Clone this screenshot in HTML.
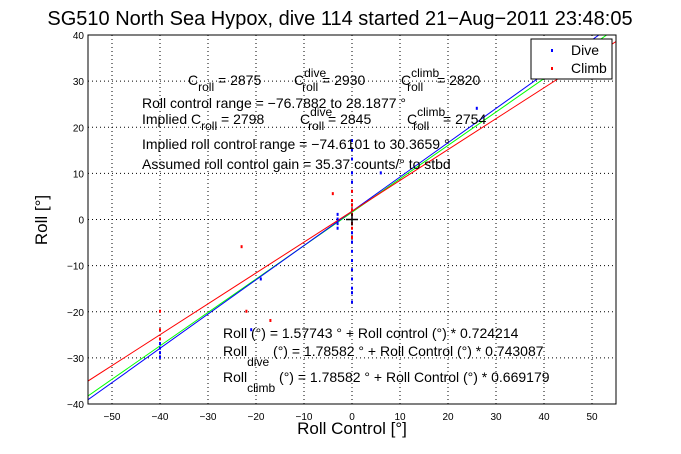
<!DOCTYPE html>
<html><head><meta charset="utf-8"><style>
body{margin:0;background:#fff}
svg{display:block;font-family:"Liberation Sans",sans-serif}
</style></head><body>
<svg id="c" width="681" height="454">
<rect width="681" height="454" fill="#fff"/>
</svg>
<script>
const xTicks=[-50,-40,-30,-20,-10,0,10,20,30,40,50];
const yTicks=[-40,-30,-20,-10,0,10,20,30,40];
const fitIntercepts=[1.57743,1.78582,1.78582];
const fitSlopes=[0.724214,0.743087,0.669179];
const fitColors=['#00ff00','#0000ff','#ff0000'];
const diveX=[0,0,0,0,0,0,0,0,0,0,0,0,0,0,0,0,0,0,0,-3,-3,-3,-3,-40,-40,-40,-40,-21,-19,6,26];
const diveY=[17,15,13,10,8,6,4,2,1,-1,-3,-5,-7,-9,-11,-13,-15,-16,-18,-2,-1,0,1,-30,-29,-28,-27,-24,-13,10,24];
const climbX=[0,0,0,0,0,0,0,0,-4,-40,-40,-40,-22,-17,-23];
const climbY=[6,4,3,2,1,-1,-2,-4,5.5,-20,-24,-26,-20,-22,-6];
const L=88,R=616,T=35,B=404,X0=-55,X1=55,Y0=-40,Y1=40;
const sx=v=>L+(v-X0)/(X1-X0)*(R-L);
const sy=v=>B-(v-Y0)/(Y1-Y0)*(B-T);
const svg=document.getElementById('c');
const NS='http://www.w3.org/2000/svg';
function mk(tag,at,parent){const e=document.createElementNS(NS,tag);for(const k in at)e.setAttribute(k,at[k]);(parent||svg).appendChild(e);return e;}
// grid
xTicks.forEach(v=>{
 const g=mk('line',{x1:sx(v),x2:sx(v),y1:T,y2:B,stroke:'#000','stroke-dasharray':'1,3','stroke-width':1});
 
 
 const t=mk('text',{x:sx(v),y:B+16,'font-size':10,'text-anchor':'middle'});t.textContent=(v<0?'\u2212':'')+Math.abs(v);
 
 
});
yTicks.forEach(v=>{
 const g=mk('line',{x1:L,x2:R,y1:sy(v),y2:sy(v),stroke:'#000','stroke-dasharray':'1,3','stroke-width':1});
 
 
 const t=mk('text',{x:L-4,y:sy(v)+4,'font-size':10,'text-anchor':'end'});t.textContent=(v<0?'\u2212':'')+Math.abs(v);
 
 
});
// fit lines
const clip=mk('clipPath',{id:'pc'});mk('rect',{x:L,y:T,width:R-L,height:B-T},clip);
fitSlopes.forEach((m,i)=>{
 const l=mk('line',{x1:sx(X0),y1:sy(fitIntercepts[i]+m*X0),x2:sx(X1),y2:sy(fitIntercepts[i]+m*X1),stroke:fitColors[i],'stroke-width':1,'clip-path':'url(#pc)'});
 
 
});
diveX.forEach((x,i)=>{
 const p=mk('rect',{x:sx(x)-1,y:sy(diveY[i])-2,width:2,height:3,fill:'#0000ff'});
 
 
});
climbX.forEach((x,i)=>{
 const p=mk('rect',{x:sx(x)-1,y:sy(climbY[i])-2,width:2,height:3,fill:'#ff0000'});
 
 
});
mk('line',{x1:sx(0)-6,x2:sx(0)+6,y1:sy(0),y2:sy(0),stroke:'#000','stroke-width':1.5});
mk('line',{x1:sx(0),x2:sx(0),y1:sy(0)-6,y2:sy(0)+6,stroke:'#000','stroke-width':1.5});
</script>
<svg width="681" height="454" style="position:absolute;left:0;top:0" font-family="Liberation Sans, sans-serif">
<rect x="88" y="35" width="528" height="369" fill="none" stroke="#000"/>
<text x="340" y="25" font-size="20" text-anchor="middle">SG510 North Sea Hypox, dive 114 started 21−Aug−2011 23:48:05</text>
<text x="352" y="434" font-size="17" text-anchor="middle">Roll Control [°]</text>
<text transform="translate(47,220) rotate(-90)" font-size="17" text-anchor="middle">Roll [°]</text>
<g>
<rect x="531" y="39" width="81" height="40" fill="#fff" stroke="#000"/>
<rect x="551" y="49" width="2" height="3" fill="#0000ff"/><text x="571" y="55" font-size="14">Dive</text>
<rect x="551" y="67" width="2" height="3" fill="#ff0000"/><text x="571" y="73" font-size="14">Climb</text>
</g>
<g font-size="14">
<text x="188" y="85">C<tspan font-size="12" dy="6">roll</tspan><tspan dy="-6"> = 2875</tspan></text>
<text x="294" y="85">C<tspan font-size="12" dx="0" dy="-8">dive</tspan><tspan font-size="12" dx="-24" dy="14">roll</tspan><tspan dy="-6"> = 2930</tspan></text>
<text x="401" y="85">C<tspan font-size="12" dy="-8">climb</tspan><tspan font-size="12" dx="-32" dy="14">roll</tspan><tspan dx="10" dy="-6"> = 2820</tspan></text>
<text x="142" y="108">Roll control range = −76.7882 to 28.1877 °</text>
<text x="142" y="124">Implied C<tspan font-size="12" dy="6">roll</tspan><tspan dy="-6"> = 2798</tspan></text>
<text x="300" y="124">C<tspan font-size="12" dy="-8">dive</tspan><tspan font-size="12" dx="-24" dy="14">roll</tspan><tspan dy="-6"> = 2845</tspan></text>
<text x="407" y="124">C<tspan font-size="12" dy="-8">climb</tspan><tspan font-size="12" dx="-32" dy="14">roll</tspan><tspan dx="10" dy="-6"> = 2754</tspan></text>
<text x="142" y="149">Implied roll control range = −74.6101 to 30.3659 °</text>
<text x="142" y="169">Assumed roll control gain = 35.37 counts/° to stbd</text>
<text x="223" y="338">Roll (°) = 1.57743 ° + Roll control (°) * 0.724214</text>
<text x="223" y="356">Roll<tspan font-size="12" dy="10">dive</tspan><tspan dy="-10"> (°) = 1.78582 ° + Roll Control (°) * 0.743087</tspan></text>
<text x="223" y="382">Roll<tspan font-size="12" dy="10">climb</tspan><tspan dy="-10"> (°) = 1.78582 ° + Roll Control (°) * 0.669179</tspan></text>
</g>
</svg>
</body></html>
